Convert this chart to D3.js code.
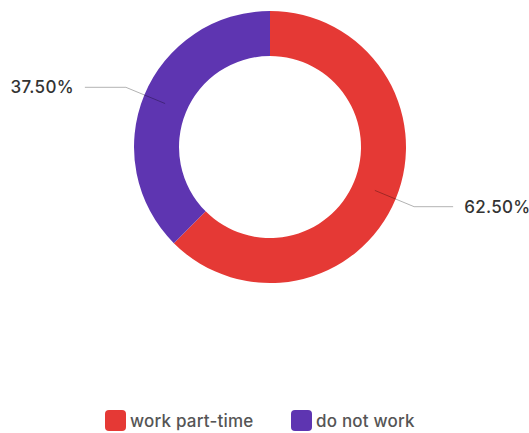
<!DOCTYPE html>
<html>
  <head>
    <style>
      body {
        margin: 0;
        font-family: "Inter", sans-serif;
        background: #fff;
      }
    </style>
  </head>
<body>
  <div id="chart"></div>

  <script src="https://d3js.org/d3.v7.min.js"></script>
  <script>
    var categories = ["work part-time", "do not work"];
    var values = [62.5, 37.5];
    var colors = ["#e53935", "#5e35b1"];

    var width = 529, height = 433;
    var cx = 270, cy = 147,
        outerR = 136, innerR = 91;

    var svg = d3.select("#chart")
      .append("svg")
      .attr("width", width)
      .attr("height", height);

    var g = svg.append("g")
      .attr("transform", "translate(" + cx + "," + cy + ")");

    var pie = d3.pie().sort(null).value(function(d) { return d; });
    var arcs = pie(values);

    var arc = d3.arc().innerRadius(innerR).outerRadius(outerR);
    var midArc = d3.arc().innerRadius((innerR + outerR) / 2).outerRadius((innerR + outerR) / 2);
    var outArc = d3.arc().innerRadius(outerR + 20).outerRadius(outerR + 20);

    g.selectAll("path.slice")
      .data(arcs)
      .enter()
      .append("path")
        .attr("class", "slice")
        .attr("d", arc)
        .style("fill", function(d, i) { return colors[i]; });

    // leader lines
    g.selectAll("polyline")
      .data(arcs)
      .enter()
      .append("polyline")
        .attr("points", function(d) {
          var a = midArc.centroid(d), b = outArc.centroid(d);
          var right = b[0] > 0;
          var c = [b[0] + (right ? 39 : -41), b[1]];
          return [a, b, c].join(" ");
        })
        .style("fill", "none")
        .style("stroke", "#000")
        .style("stroke-opacity", 0.3)
        .style("stroke-width", 1);

    g.selectAll("text.lbl")
      .data(arcs)
      .enter()
      .append("text")
        .attr("class", "lbl")
        .attr("x", function(d) {
          var b = outArc.centroid(d);
          return b[0] > 0 ? b[0] + 50 : b[0] - 52;
        })
        .attr("y", function(d) { return outArc.centroid(d)[1]; })
        .attr("dy", "0.35em")
        .style("text-anchor", function(d) { return outArc.centroid(d)[0] > 0 ? "start" : "end"; })
        .style("font-size", "17px")
        .style("font-weight", 500)
        .style("letter-spacing", "0.3px")
        .style("fill", "#333")
        .text(function(d) { return d.data.toFixed(2) + "%"; });

    // legend
    var legendX = [105, 291];
    var legend = svg.append("g").selectAll("g")
      .data(categories)
      .enter()
      .append("g")
        .attr("transform", function(d, i) { return "translate(" + legendX[i] + ",410)"; });

    legend.append("rect")
      .attr("width", 21)
      .attr("height", 21)
      .attr("rx", 4)
      .style("fill", function(d, i) { return colors[i]; });

    legend.append("text")
      .attr("x", 25)
      .attr("y", 11)
      .attr("dy", "0.35em")
      .style("font-size", "17px")
      .style("font-weight", 500)
      .style("letter-spacing", "0.2px")
      .style("fill", "#555")
      .text(function(d) { return d; });
  </script>
</body>
</html>
